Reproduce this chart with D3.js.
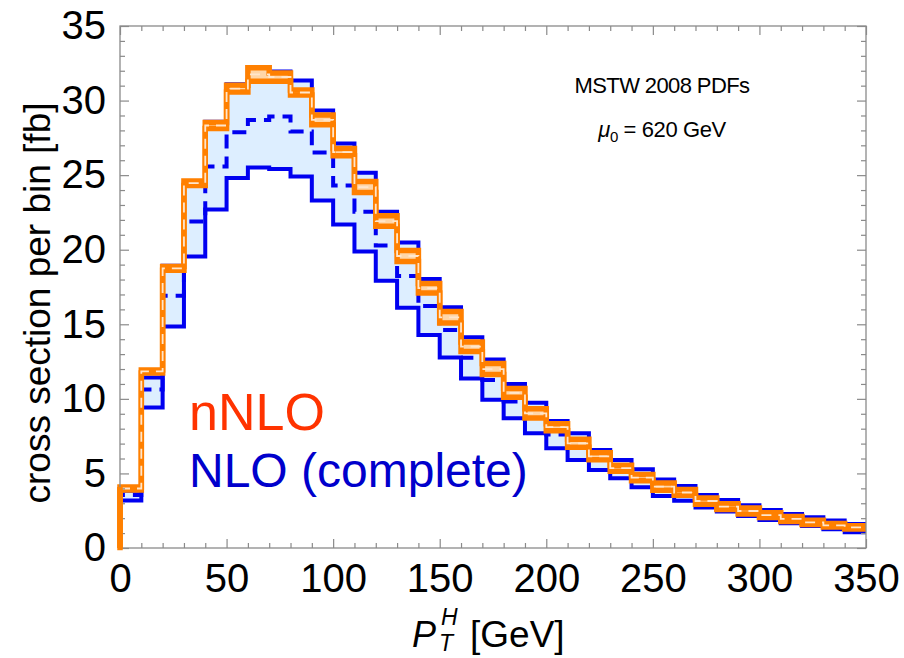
<!DOCTYPE html>
<html>
<head>
<meta charset="utf-8">
<script src="https://cdn.jsdelivr.net/npm/d3@7"></script>
<style>
  html, body { margin: 0; padding: 0; background: #fff; }
  svg { display: block; font-family: "Liberation Sans", Arial, sans-serif; }
</style>
</head>
<body>
<svg id="chart" width="904" height="658"></svg>
<script>
// ---- data (bins of 10 GeV, 0..350) ----
const binEdges = [0,10,20,30,40,50,60,70,80,90,100,110,120,130,140,150,160,170,180,190,200,210,220,230,240,250,260,270,280,290,300,310,320,330,340];
const nloUpper = [3.84,11.43,18.93,24.51,28.58,31.1,32.25,31.95,31.35,29.34,27.12,25.16,22.55,20.48,18.04,16.14,14.13,12.64,11.0,9.74,8.52,7.69,6.57,5.9,5.28,4.6,4.16,3.56,3.22,2.86,2.55,2.28,2.06,1.84,1.61];
const nloLower = [3.19,9.42,14.85,19.54,22.7,24.81,25.51,25.41,24.91,23.3,21.69,19.88,17.92,16.11,14.28,12.78,11.37,9.94,8.7,7.69,6.68,5.9,5.23,4.67,4.07,3.49,3.17,2.72,2.44,2.15,1.88,1.66,1.47,1.25,1.05];
const nloCentral = [3.56,10.63,16.92,21.9,25.58,27.87,28.7,28.93,27.93,26.52,24.31,22.55,20.28,18.24,16.23,14.62,12.76,11.26,9.82,8.72,7.61,6.81,5.9,5.3,4.69,4.04,3.69,3.13,2.83,2.48,2.23,1.98,1.78,1.55,1.32];
const nnloUpper = [4.09,11.94,18.88,24.61,28.53,31.02,32.2,31.85,30.71,29.03,26.79,24.58,22.27,19.95,17.74,15.86,13.82,12.37,10.69,9.34,8.33,7.29,6.39,5.55,4.92,4.36,3.92,3.36,2.97,2.68,2.37,2.11,1.86,1.64,1.5];
const nnloLower = [3.89,11.74,18.62,24.31,28.13,30.57,31.3,31.3,30.37,28.38,26.3,23.83,21.57,19.21,17.1,15.08,13.17,11.63,10.1,8.72,7.86,6.75,5.92,5.14,4.51,3.87,3.53,2.93,2.58,2.28,2.05,1.78,1.58,1.4,1.27];
const nnloCentral = [3.99,11.84,18.75,24.46,28.33,30.8,31.75,31.58,30.54,28.7,26.55,24.2,21.92,19.58,17.42,15.47,13.5,12.0,10.4,9.03,8.1,7.02,6.15,5.35,4.72,4.12,3.72,3.15,2.78,2.48,2.21,1.95,1.72,1.52,1.38];
const xTicks = [0,50,100,150,200,250,300,350];
const yTicks = [0,5,10,15,20,25,30,35];
const xMax = 350;

// ---- layout ----
const svg = d3.select("#chart");
const x = d3.scaleLinear().domain([0, 350]).range([120, 866]);
const y = d3.scaleLinear().domain([0, 35]).range([548, 26]);

const BLUE = "#0000f0";
const ORANGE = "#ff8000";

function stepPts(vals, startZero) {
  const pts = [];
  if (startZero) pts.push([0, 0]);
  binEdges.forEach((e, i) => pts.push([e, vals[i]]));
  pts.push([xMax, vals[vals.length - 1]]);
  return pts;
}
const line = d3.line().x(d => x(d[0])).y(d => y(d[1])).curve(d3.curveStepAfter);

function bandPts(lo, hi) {
  const pts = binEdges.map((e, i) => ({ x: e, lo: lo[i], hi: hi[i] }));
  pts.push({ x: xMax, lo: lo[lo.length - 1], hi: hi[hi.length - 1] });
  return pts;
}
const area = d3.area().x(d => x(d.x)).y0(d => y(d.lo)).y1(d => y(d.hi)).curve(d3.curveStepAfter);

const plot = svg.append("g");
svg.append("clipPath").attr("id", "clip")
  .append("rect").attr("x", 110).attr("y", 20).attr("width", 760).attr("height", 535);
plot.attr("clip-path", "url(#clip)");

// NLO band
plot.append("path").attr("d", area(bandPts(nloLower, nloUpper)))
  .attr("fill", "#ddeeff").attr("stroke", "none");
plot.append("path").attr("d", line(stepPts(nloLower, true)))
  .attr("fill", "none").attr("stroke", BLUE).attr("stroke-width", 4);
plot.append("path").attr("d", line(stepPts(nloCentral, true)))
  .attr("fill", "none").attr("stroke", BLUE).attr("stroke-width", 4)
  .attr("stroke-dasharray", "14,8");
plot.append("path").attr("d", line(stepPts(nloUpper, true)))
  .attr("fill", "none").attr("stroke", BLUE).attr("stroke-width", 4);

// nNLO band
plot.append("path").attr("d", area(bandPts(nnloLower, nnloUpper)))
  .attr("fill", "#ffd6a8").attr("stroke", "none");
plot.append("path").attr("d", line(stepPts(nnloLower, true)))
  .attr("fill", "none").attr("stroke", ORANGE).attr("stroke-width", 5.5);
plot.append("path").attr("d", line(stepPts(nnloUpper, true)))
  .attr("fill", "none").attr("stroke", ORANGE).attr("stroke-width", 5.5);
plot.append("path").attr("d", line(stepPts(nnloCentral, false)))
  .attr("fill", "none").attr("stroke", "#ffe6cc").attr("stroke-width", 1.8)
  .attr("stroke-dasharray", "10,7");

// ---- frame & ticks ----
const axisColor = "#8a8a8a";
const minorX = d3.range(0, 351, 10).filter(v => v % 50 !== 0);
const minorY = d3.range(0, 36, 1).filter(v => v % 5 !== 0);

function styleAxis(g) {
  g.select(".domain").remove();
  g.selectAll(".tick line").attr("stroke", axisColor).attr("stroke-width", 1.2);
  g.selectAll(".tick text").attr("fill", "#000");
}

// bottom
svg.append("g").attr("transform", `translate(0,${y(0)})`)
  .call(d3.axisBottom(x).tickValues(xTicks).tickSize(-9).tickPadding(16).tickFormat(d3.format("d")))
  .call(styleAxis)
  .selectAll("text").attr("font-size", 40).attr("font-family", "Liberation Sans, Arial, sans-serif");
svg.append("g").attr("transform", `translate(0,${y(0)})`)
  .call(d3.axisBottom(x).tickValues(minorX).tickSize(-5).tickFormat(""))
  .call(styleAxis);
// top
svg.append("g").attr("transform", `translate(0,${y(35)})`)
  .call(d3.axisTop(x).tickValues(xTicks).tickSize(-9).tickFormat(""))
  .call(styleAxis);
svg.append("g").attr("transform", `translate(0,${y(35)})`)
  .call(d3.axisTop(x).tickValues(minorX).tickSize(-5).tickFormat(""))
  .call(styleAxis);
// left
svg.append("g").attr("transform", `translate(${x(0)},0)`)
  .call(d3.axisLeft(y).tickValues(yTicks).tickSize(-9).tickPadding(14).tickFormat(d3.format("d")))
  .call(styleAxis)
  .selectAll("text").attr("font-size", 40).attr("font-family", "Liberation Sans, Arial, sans-serif");
svg.append("g").attr("transform", `translate(${x(0)},0)`)
  .call(d3.axisLeft(y).tickValues(minorY).tickSize(-5).tickFormat(""))
  .call(styleAxis);
// right
svg.append("g").attr("transform", `translate(${x(350)},0)`)
  .call(d3.axisRight(y).tickValues(yTicks).tickSize(-9).tickFormat(""))
  .call(styleAxis);
svg.append("g").attr("transform", `translate(${x(350)},0)`)
  .call(d3.axisRight(y).tickValues(minorY).tickSize(-5).tickFormat(""))
  .call(styleAxis);

svg.append("rect").attr("x", x(0)).attr("y", y(35))
  .attr("width", x(350) - x(0)).attr("height", y(0) - y(35))
  .attr("fill", "none").attr("stroke", axisColor).attr("stroke-width", 1.3);

// orange rise at x=0 drawn over the frame
svg.append("path").attr("d", line([[0, -0.15], [0, nnloUpper[0]]]))
  .attr("stroke", ORANGE).attr("stroke-width", 5.5).attr("fill", "none");

// ---- labels ----
svg.append("text")
  .attr("transform", `translate(50,${(y(0) + y(35)) / 2 + 16}) rotate(-90)`)
  .attr("text-anchor", "middle").attr("font-size", 37)
  .text("cross section per bin [fb]");

// x-axis title: P_T^H [GeV]
svg.append("text").attr("x", 412).attr("y", 647)
  .attr("font-size", 36).attr("font-style", "italic").text("P");
svg.append("text").attr("x", 441).attr("y", 625)
  .attr("font-size", 23).attr("font-style", "italic").text("H");
svg.append("text").attr("x", 439).attr("y", 651)
  .attr("font-size", 23).attr("font-style", "italic").text("T");
svg.append("text").attr("x", 470).attr("y", 647)
  .attr("font-size", 37).text("[GeV]");

svg.append("text").attr("x", 189).attr("y", 430)
  .attr("font-size", 52).attr("fill", "#ff3300").text("nNLO");
svg.append("text").attr("x", 189).attr("y", 487)
  .attr("font-size", 48).attr("fill", "#0000cc").text("NLO (complete)");

svg.append("text").attr("x", 662).attr("y", 93)
  .attr("text-anchor", "middle").attr("font-size", 22).attr("letter-spacing", -0.6)
  .text("MSTW 2008 PDFs");
const mu = svg.append("text").attr("x", 662).attr("y", 137)
  .attr("text-anchor", "middle").attr("font-size", 22).attr("letter-spacing", -0.4);
mu.append("tspan").attr("font-style", "italic").text("μ");
mu.append("tspan").attr("font-size", 15).attr("dy", 5).text("0");
mu.append("tspan").attr("dy", -5).text(" = 620 GeV");
</script>
</body>
</html>
